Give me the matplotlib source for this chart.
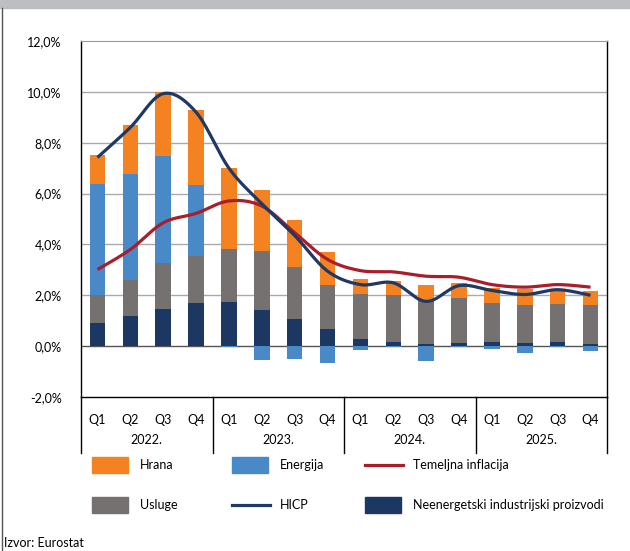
import numpy as np
import matplotlib
matplotlib.use('Agg')
import matplotlib.pyplot as plt
from matplotlib.patches import Rectangle
from matplotlib.lines import Line2D
import matplotlib.transforms as mtransforms

plt.rcParams['font.family'] = ['Lato', 'DejaVu Sans']

quarters = ['Q1', 'Q2', 'Q3', 'Q4'] * 4
years = ['2022.', '2023.', '2024.', '2025.']

# doprinosi (postotni bodovi)
neenergetski = [0.90, 1.17, 1.48, 1.70, 1.73, 1.44, 1.07, 0.67, 0.30, 0.16, 0.08, 0.12, 0.15, 0.12, 0.18, 0.09]
usluge = [1.12, 1.43, 1.80, 1.86, 2.09, 2.30, 2.05, 1.74, 1.74, 1.84, 1.75, 1.76, 1.54, 1.49, 1.48, 1.53]
energija = [4.35, 4.18, 4.19, 2.77, -0.04, -0.55, -0.52, -0.66, -0.17, -0.03, -0.60, -0.03, -0.12, -0.26, -0.05, -0.20]
hrana = [1.13, 1.93, 2.53, 2.95, 3.18, 2.41, 1.84, 1.28, 0.60, 0.55, 0.56, 0.59, 0.60, 0.65, 0.60, 0.56]

hicp = [7.42, 8.60, 9.93, 9.20, 7.00, 5.60, 4.35, 2.95, 2.42, 2.49, 1.76, 2.38, 2.19, 2.03, 2.22, 2.00]
temeljna = [3.01, 3.80, 4.85, 5.22, 5.71, 5.51, 4.46, 3.41, 2.97, 2.92, 2.75, 2.71, 2.42, 2.32, 2.42, 2.32]

c_hrana = '#F58220'
c_energija = '#4A89C8'
c_usluge = '#767171'
c_neen = '#1D3763'
c_hicp = '#1F3864'
c_tem = '#A81E2A'
fs = 9


def smooth(y, n=30):
    # excel-like smoothed line (bezier through the points)
    x = np.arange(len(y), dtype=float)
    y = np.asarray(y, dtype=float)
    pts = np.column_stack([x, y])
    out = []
    t = np.linspace(0, 1, n)[:, None]
    for i in range(len(pts) - 1):
        p0 = pts[i - 1] if i > 0 else pts[i]
        p1 = pts[i]
        p2 = pts[i + 1]
        p3 = pts[i + 2] if i + 2 < len(pts) else pts[i + 1]
        c1 = p1 + (p2 - p0) / 6
        c2 = p2 - (p3 - p1) / 6
        seg = ((1 - t) ** 3) * p1 + 3 * ((1 - t) ** 2) * t * c1 + 3 * (1 - t) * t ** 2 * c2 + t ** 3 * p2
        out.append(seg)
    out = np.vstack(out)
    return out[:, 0], out[:, 1]


fig = plt.figure(figsize=(6.3, 5.51), dpi=100)
ax = fig.add_axes([81 / 630, 1 - 397 / 551, 526 / 630, 356 / 551])

x = np.arange(16)
w = 0.47
pos = np.zeros(16)
neg = np.zeros(16)
for vals, col in [(neenergetski, c_neen), (usluge, c_usluge), (energija, c_energija), (hrana, c_hrana)]:
    v = np.array(vals)
    bottom = np.where(v >= 0, pos, neg)
    ax.bar(x, v, w, bottom=bottom, color=col, zorder=2)
    pos = pos + np.where(v >= 0, v, 0)
    neg = neg + np.where(v < 0, v, 0)

sx, sy = smooth(temeljna)
ax.plot(sx, sy, color=c_tem, lw=2.3, zorder=3, solid_capstyle='butt')
sx, sy = smooth(hicp)
ax.plot(sx, sy, color=c_hicp, lw=2.3, zorder=4, solid_capstyle='butt')

ax.set_xlim(-0.5, 15.5)
ax.set_ylim(-2, 12)
ax.set_yticks(np.arange(-2, 13, 2))
ax.set_yticklabels([('%.1f%%' % v).replace('.', ',') for v in np.arange(-2, 13, 2)])
ax.tick_params(axis='y', length=0, pad=14, labelsize=fs)
ax.set_xticks([])
for v in range(0, 12, 2):
    ax.axhline(v, color='#555555' if v == 0 else '#AAAAAA', lw=1.0, zorder=1)
for s in ['left', 'right', 'bottom']:
    ax.spines[s].set_color('black')
    ax.spines[s].set_linewidth(1.0)
ax.spines['top'].set_color('#999999')

trans = mtransforms.blended_transform_factory(ax.transData, ax.transAxes)
for i, q in enumerate(quarters):
    ax.text(i, -0.065, q, transform=trans, ha='center', va='center', fontsize=fs)
for k, yr in enumerate(years):
    ax.text(4 * k + 1.5, -0.12, yr, transform=trans, ha='center', va='center', fontsize=fs)
for b in [-0.5, 3.5, 7.5, 11.5, 15.5]:
    ax.plot([b, b], [0, -0.157], transform=trans, color='black', lw=1.0, clip_on=False)

# legenda
def fx(px):
    return px / 630

def fy(py):
    return 1 - py / 551

legend_items = [
    ('patch', c_hrana, 'Hrana', 92, 465),
    ('patch', c_energija, 'Energija', 232, 465),
    ('line', c_tem, 'Temeljna inflacija', 365, 465),
    ('patch', c_usluge, 'Usluge', 92, 505),
    ('line', c_hicp, 'HICP', 232, 505),
    ('patch', c_neen, 'Neenergetski industrijski proizvodi', 365, 505),
]
for kind, col, label, px, py in legend_items:
    if kind == 'patch':
        fig.patches.append(Rectangle((fx(px), fy(py + 8)), 36 / 630, 16 / 551,
                                     transform=fig.transFigure, color=col))
    else:
        fig.lines.append(Line2D([fx(px), fx(px + 38)], [fy(py), fy(py)],
                                transform=fig.transFigure, color=col, lw=2.3))
    fig.text(fx(px + 48), fy(py), label, ha='left', va='center', fontsize=fs)

fig.text(fx(4), fy(543), 'Izvor: Eurostat', ha='left', va='center', fontsize=fs)

# okvir
fig.patches.append(Rectangle((0, fy(8)), 1, 8 / 551, transform=fig.transFigure,
                             color='#BDBEC2'))
fig.lines.append(Line2D([fx(2), fx(2)], [0, fy(8)], transform=fig.transFigure,
                        color='#555555', lw=1.0))

fig.savefig('out.png', dpi=100)
